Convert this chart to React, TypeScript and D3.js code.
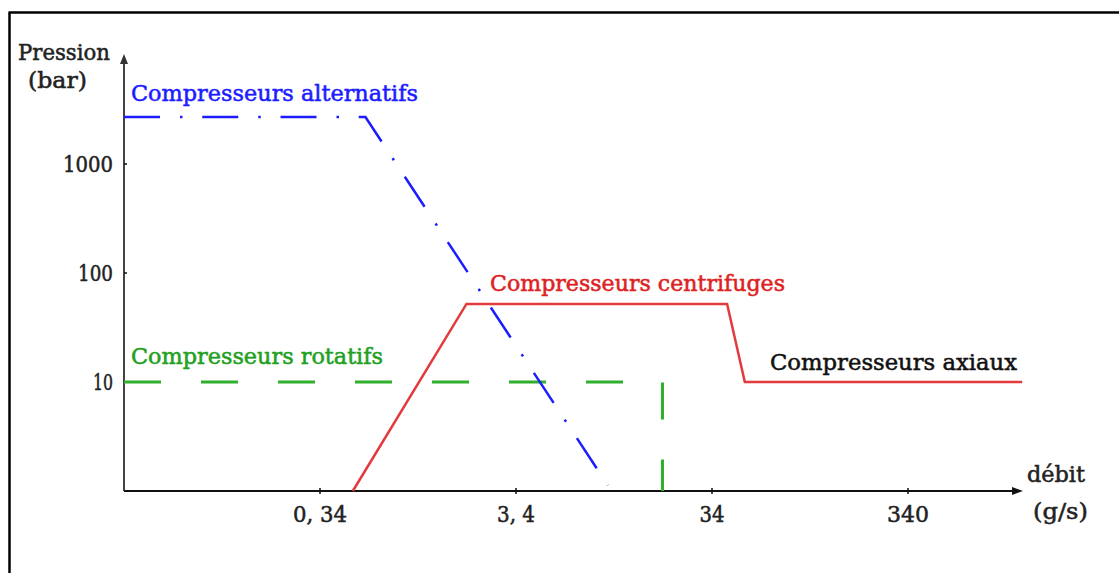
import React from "react";
import * as d3 from "d3";

// Data (log-log chart)
const xTickValues = [0.34, 3.4, 34, 340];
const xTickLabels = ["0, 34", "3, 4", "34", "340"];
const yTickValues = [10, 100, 1000];
const yTickLabels = ["10", "100", "1000"];

const alternatifsX = [0.034, 0.58, 10];
const alternatifsY = [2700, 2700, 1.13];

const centrifugesX = [0.5, 1.9, 40.6, 50, 1300];
const centrifugesY = [1, 52, 52, 10, 10];

const rotatifsX = [0.034, 19, 19];
const rotatifsY = [10, 10, 1];

const W = 1119;
const H = 573;

export default function App() {
  const x = d3.scaleLog().domain([0.034, 3400]).range([124, 1104]);
  const y = d3.scaleLog().domain([1, 10000]).range([491, 55]);

  const line = d3
    .line<[number, number]>()
    .x((d) => x(d[0]))
    .y((d) => y(d[1]));

  const zip = (xs: number[], ys: number[]) =>
    xs.map((v, i) => [v, ys[i]] as [number, number]);

  const font = "DejaVu Serif";
  const fs = 23;

  const blue = "#1c1cff";
  const red = "#e23a3d";
  const green = "#2eaf2e";

  const x0 = x(0.034);
  const y0 = y(1);

  const txt = (
    s: string,
    tx: number,
    ty: number,
    len: number,
    color: string,
    anchor: "start" | "middle" | "end" = "start"
  ) => (
    <text
      x={tx}
      y={ty}
      textLength={len}
      lengthAdjust="spacingAndGlyphs"
      textAnchor={anchor}
      fill={color}
      stroke={color}
      strokeWidth={0.55}
      fontFamily={font}
      fontSize={fs}
    >
      {s}
    </text>
  );

  const xLabelW = [54, 38, 25, 42];
  const yLabelW = [20, 35, 50];

  return (
    <svg
      width={W}
      height={H}
      style={{ position: "absolute", left: 0, top: 0, background: "#fff" }}
    >
      {/* frame */}
      <line x1={9.5} y1={12.5} x2={9.5} y2={H} stroke="#000" strokeWidth={2.5} />
      <line x1={8.5} y1={12.5} x2={W} y2={12.5} stroke="#000" strokeWidth={2.5} />

      {/* axes */}
      <line x1={x0} y1={y0} x2={x0} y2={62} stroke="#444" strokeWidth={2} />
      <path d={`M${x0 - 4},${64} L${x0},${54} L${x0 + 4},${64} Z`} fill="#333" />
      <line x1={x0} y1={y0} x2={1014} y2={y0} stroke="#111" strokeWidth={2} />
      <path d={`M${1012},${y0 - 4} L${1023},${y0} L${1012},${y0 + 4} Z`} fill="#111" />

      {/* ticks */}
      {xTickValues.map((v, i) => (
        <g key={"xt" + i}>
          <line x1={x(v)} x2={x(v)} y1={y0 - 3} y2={y0 + 3} stroke="#111" strokeWidth={1.5} />
          {txt(xTickLabels[i], x(v), 522, xLabelW[i], "#222", "middle")}
        </g>
      ))}
      {yTickValues.map((v, i) => (
        <g key={"yt" + i}>
          <line x1={x0} x2={x0 + 3} y1={y(v)} y2={y(v)} stroke="#111" strokeWidth={1.5} />
          {txt(yTickLabels[i], 113, y(v) + 8, yLabelW[i], "#222", "end")}
        </g>
      ))}

      {/* axis titles */}
      {txt("Pression", 18, 60, 92, "#222")}
      {txt("(bar)", 28, 88, 59, "#222")}
      {txt("débit", 1027, 482, 58, "#222")}
      {txt("(g/s)", 1033, 519, 55, "#222")}

      {/* series */}
      <path
        d={line(zip(rotatifsX, rotatifsY)) || ""}
        fill="none"
        stroke={green}
        strokeWidth={3}
        strokeDasharray="37 40"
      />
      <path
        d={line(zip(centrifugesX, centrifugesY)) || ""}
        fill="none"
        stroke={red}
        strokeWidth={2.5}
        strokeLinejoin="miter"
      />
      <path
        d={line(zip(alternatifsX, alternatifsY)) || ""}
        fill="none"
        stroke={blue}
        strokeWidth={2.5}
        strokeDasharray="36 20 2.5 19.75"
      />

      {/* annotations */}
      {txt("Compresseurs alternatifs", 131, 101, 287, blue)}
      {txt("Compresseurs centrifuges", 490, 291, 295, "#dd2222")}
      {txt("Compresseurs rotatifs", 131, 364, 252, "#22a022")}
      {txt("Compresseurs axiaux", 770, 370, 247, "#111")}
    </svg>
  );
}
